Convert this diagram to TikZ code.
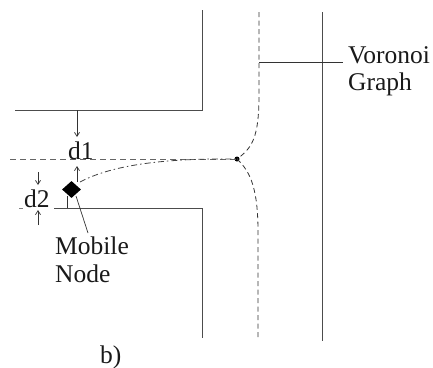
\documentclass[tikz,border=0pt]{standalone}
\usepackage{fontspec}
\setmainfont{Liberation Serif}
\usetikzlibrary{shapes.geometric,arrows.meta}
\begin{document}
\begin{tikzpicture}[x=1pt,y=-1pt,
  wall/.style={draw=black!70,line width=0.9pt},
  vor/.style={draw=black!80,line width=0.8pt,dash pattern=on 5pt off 3.5pt},
  hline/.style={draw=black!60,line width=0.9pt,dash pattern=on 6pt off 4pt},
  dd/.style={draw=black!75,line width=0.8pt,dash pattern=on 6pt off 3pt on 1.5pt off 3pt},
  thin/.style={draw=black!80,line width=0.7pt},
  dim/.style={draw=black!80,line width=0.7pt,-{Straight Barb[length=4pt,width=5pt]}},
  lbl/.style={inner sep=0pt,font=\fontsize{25.5}{30}\selectfont,text=black!90}]
\useasboundingbox (0,0) rectangle (433,367);
% walls
\coordinate (a1) at (15,110); \coordinate (a2) at (202,110); \coordinate (a3) at (202,10);
\coordinate (b1) at (54,208); \coordinate (b2) at (202,208); \coordinate (b3) at (202,338);
\coordinate (r1) at (322,12); \coordinate (r2) at (322,341);
\draw[wall] (a1) -- (a2) -- (a3);
\draw[wall] (b1) -- (b2) -- (b3);
\draw[wall] (r1) -- (r2);
% voronoi graph
\node[circle,fill=black,inner sep=0pt,minimum size=5pt] (jn) at (237,159) {};
\coordinate (v1) at (259,12); \coordinate (v2) at (259,95);
\coordinate (v3) at (258,232); \coordinate (v4) at (258,338);
\draw[vor] (v1) -- (v2) .. controls (259,138) and (252,148) .. (jn.center);
\draw[vor] (jn.center) .. controls (251,172) and (258,190) .. (v3) -- (v4);
\coordinate (h0) at (10,159);
\draw[hline] (h0) -- (jn.center);
% mobile node
\node[diamond,fill=black,inner sep=0pt,minimum width=19pt,minimum height=17pt] (mn) at (71.5,189.5) {};
\draw[dd] (80,182) .. controls (110,166) and (160,158) .. (jn.center);
% labels
\node[lbl,anchor=base west] (vt) at (348,63) {Voronoi};
\node[lbl,anchor=base west] (gt) at (348,90) {Graph};
\coordinate (vp) at (259,62); \coordinate (vq) at (343,62);
\draw[thin] (vp) -- (vq);
\node[lbl,anchor=base west] (mt) at (55,254) {Mobile};
\node[lbl,anchor=base west] (nt) at (55,282) {Node};
\coordinate (mp) at (88,233);
\draw[thin] (76,196) -- (mp);
% d1
\node[lbl,anchor=base west] (d1) at (68,159) {d1};
\coordinate (d1a) at (77,110); \coordinate (d1b) at (77,137);
\draw[dim] (d1a) -- (d1b);
\coordinate (d1c) at (77,182); \coordinate (d1d) at (77,166);
\draw[dim] (d1c) -- (d1d);
% d2
\node[lbl,anchor=base west] (d2) at (24,207) {d2};
\coordinate (d2a) at (38,172); \coordinate (d2b) at (38,185);
\draw[dim] (d2a) -- (d2b);
\coordinate (d2c) at (38,225); \coordinate (d2d) at (38,210);
\draw[dim] (d2c) -- (d2d);
\draw[thin] (67,196) -- (67,208);
\draw[thin,draw=black!50] (19,208) -- (23,208);
% caption
\node[lbl,anchor=base west] (cb) at (100,363) {b)};
\end{tikzpicture}
\end{document}
